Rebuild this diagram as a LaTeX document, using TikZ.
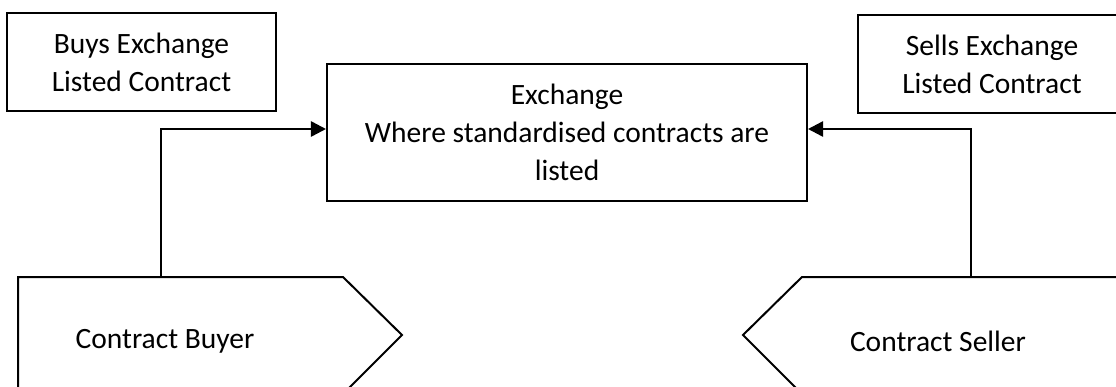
\documentclass[tikz,border=0pt]{standalone}
\usepackage{fontspec}
\setmainfont{Carlito}
\usetikzlibrary{arrows.meta,positioning}

\begin{document}
\begin{tikzpicture}[x=0.4pt,y=-0.4pt,
    font=\fontsize{11.8}{15.2}\selectfont,
    box/.style={draw, line width=0.8pt, align=center, inner sep=0pt},
    party/.style={draw, line width=0.8pt},
    link/.style={draw, line width=1pt, -{Triangle[length=6pt,width=6pt]}}]
  \useasboundingbox (0,0) rectangle (1116,387);
  \clip (0,0) rectangle (1116,387);

  % Boxes
  \node (buys) [box, minimum width=107.6pt, minimum height=39.2pt] at (141.5,62) {Buys Exchange\\Listed Contract};
  \node (sells) [box, minimum width=107.6pt, minimum height=39.2pt] at (992,64) {Sells Exchange\\Listed Contract};
  \node (exch) [box, minimum width=192pt, minimum height=54.8pt] at (567,132) {Exchange\\Where standardised contracts are\\listed};

  % Buyer and seller
  \draw[party] (18,400) -- (18,277) -- (343,277) -- (402,335) -- (343,394);
  \draw[party] (1125,277) -- (802,277) -- (743,335) -- (802,394);
  \node (buyer) at (165,341) {Contract Buyer};
  \node (seller) at (938,341) {Contract Seller};
  \coordinate (buytop) at (161,277);
  \coordinate (selltop) at (971,277);

  % Edges
  \draw[link] (buytop) |- ([yshift=1.2pt]exch.west);
  \draw[link] (selltop) |- ([yshift=1.2pt]exch.east);
\end{tikzpicture}
\end{document}
